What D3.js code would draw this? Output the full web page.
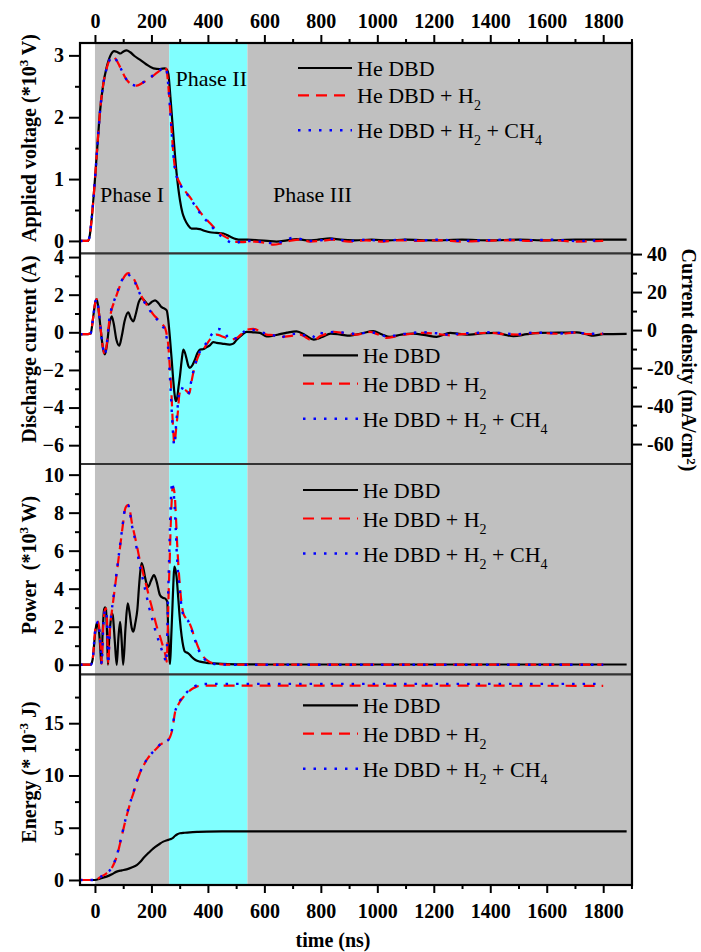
<!DOCTYPE html>
<html>
<head>
<meta charset="utf-8">
<script src="https://cdn.jsdelivr.net/npm/d3@7"></script>
<style>
body { margin: 0; background: #fff; }
svg text { font-family: "Liberation Serif", "Times New Roman", serif; fill: #000; }
.tick text { font-weight: bold; font-size: 20px; }
</style>
</head>
<body>
<svg id="chart" width="701" height="952"></svg>
<script>
// ---- data: [time (ns), value] ----
const timeTicks = [0, 200, 400, 600, 800, 1000, 1200, 1400, 1600, 1800];
const timeMinor = [100, 300, 500, 700, 900, 1100, 1300, 1500, 1700, 1900];
const phases = [
    { name: 'gray', from: 0, to: 263 },
    { name: 'cyan', from: 263, to: 540 },
    { name: 'gray', from: 540, to: 1902 }
];
const seriesNames = ['He DBD', 'He DBD + H2', 'He DBD + H2 + CH4'];

const voltageHe = [[-53,0],[-25,0],[-18,0.1],[-12,0.34],[-5,0.7],[0,1.0],[8,1.5],[18,2.1],[30,2.55],[41,2.8],[55,3.0],[68,3.07],[80,3.05],[90,3.03],[100,3.06],[112,3.08],[125,3.05],[140,2.99],[159,2.93],[180,2.86],[207,2.79],[230,2.78],[248,2.79],[255,2.77],[260,2.7],[268,2.28],[277,1.75],[289,1.1],[301,0.66],[310,0.45],[319,0.34],[330,0.25],[342,0.2],[360,0.2],[372,0.19],[390,0.16],[407,0.14],[431,0.13],[455,0.12],[478,0.07],[500,0.03],[514,0.02],[540,0.02],[580,0.01],[610,0],[643,-0.01],[680,0.01],[714,0.03],[750,0.01],[790,0.02],[832,0.04],[870,0.02],[920,0.01],[980,0.02],[1040,0.01],[1100,0.02],[1200,0.01],[1300,0.02],[1400,0.01],[1500,0.02],[1600,0.01],[1700,0.02],[1800,0.02],[1883,0.02]];
const voltageH2 = [[-53,0],[-25,0],[-18,0.1],[-12,0.34],[-5,0.7],[0,1.0],[8,1.5],[18,2.1],[30,2.55],[41,2.78],[55,2.95],[65,2.98],[75,2.93],[90,2.8],[110,2.62],[130,2.53],[148,2.51],[170,2.56],[195,2.63],[220,2.72],[242,2.79],[250,2.8],[255,2.72],[260,2.5],[268,2.01],[274,1.62],[280,1.3],[286,1.12],[292,1.02],[300,0.94],[310,0.86],[322,0.79],[336,0.71],[350,0.62],[372,0.47],[390,0.37],[407,0.29],[425,0.2],[443,0.12],[460,0.07],[478,0.03],[495,-0.01],[520,-0.02],[560,-0.01],[600,-0.03],[632,-0.06],[660,-0.04],[700,0.01],[730,0.02],[760,-0.01],[800,0],[840,0.02],[900,-0.01],[960,0.01],[1020,-0.01],[1080,0.01],[1150,0],[1220,0.01],[1300,-0.01],[1380,0],[1460,0.01],[1540,0],[1620,0.01],[1700,-0.01],[1800,0]];
const voltageCH4 = [[-53,0],[-25,0],[-18,0.1],[-12,0.34],[-5,0.7],[0,1.0],[8,1.5],[18,2.1],[30,2.55],[41,2.78],[55,2.95],[65,2.98],[75,2.93],[90,2.8],[110,2.62],[130,2.53],[148,2.51],[170,2.56],[195,2.64],[220,2.73],[242,2.79],[250,2.8],[255,2.72],[260,2.5],[268,2.01],[274,1.6],[280,1.28],[286,1.1],[292,1.0],[300,0.93],[310,0.85],[322,0.78],[336,0.7],[350,0.6],[372,0.45],[390,0.35],[407,0.27],[425,0.17],[443,0.09],[460,0.03],[478,-0.02],[490,-0.04],[520,-0.01],[560,0],[600,-0.02],[632,-0.04],[660,-0.02],[702,0.05],[730,0.03],[760,0],[800,0.01],[840,0.03],[900,0],[960,0.02],[1020,0],[1080,0.02],[1150,0.01],[1220,0.02],[1300,0],[1380,0.01],[1460,0.02],[1540,0.01],[1620,0.02],[1700,0],[1800,0.01]];

const currentHe = [[-53,-0.1],[-25,-0.1],[-15,-0.05],[-8,0.6],[0,1.5],[6,1.77],[12,1.3],[20,0.2],[28,-0.8],[35,-1.18],[42,-0.7],[50,0.3],[59,0.85],[66,0.5],[76,-0.4],[86,-0.71],[95,-0.2],[105,0.6],[118,1.06],[127,0.75],[136,0.58],[145,1.0],[155,1.6],[165,1.82],[177,1.65],[189,1.47],[200,1.6],[213,1.7],[225,1.55],[235,1.35],[242,1.29],[254,1.17],[260,0.6],[266,-0.39],[272,-1.5],[277,-2.5],[282,-3.3],[286,-3.66],[291,-3.5],[296,-2.9],[301,-2.33],[307,-1.5],[313,-0.92],[319,-1.1],[325,-1.45],[331,-1.8],[336,-1.89],[345,-1.75],[354,-1.45],[363,-1.1],[372,-0.92],[382,-0.9],[395,-0.8],[407,-0.7],[419,-0.52],[431,-0.56],[450,-0.6],[478,-0.65],[490,-0.6],[502,-0.39],[520,-0.15],[537,0.02],[560,0.0],[584,-0.03],[608,-0.22],[630,-0.18],[655,-0.1],[680,-0.02],[714,0.05],[745,-0.15],[775,-0.39],[805,-0.25],[835,-0.07],[870,-0.12],[903,-0.18],[945,-0.05],[986,0.06],[1015,-0.1],[1045,-0.24],[1085,-0.12],[1128,-0.07],[1170,-0.15],[1210,-0.24],[1258,-0.03],[1290,-0.08],[1328,-0.12],[1375,-0.05],[1423,-0.03],[1450,-0.12],[1482,-0.21],[1530,-0.1],[1576,-0.03],[1640,-0.02],[1706,0],[1740,-0.1],[1765,-0.18],[1800,-0.1],[1883,-0.08]];
const currentH2 = [[-53,-0.1],[-25,-0.1],[-15,-0.05],[-8,0.6],[0,1.5],[6,1.77],[12,1.3],[20,0.2],[28,-0.8],[35,-1.2],[42,-0.6],[50,0.5],[59,1.2],[71,1.73],[83,2.25],[95,2.7],[108,3.05],[118,3.15],[127,3.05],[136,2.88],[148,2.5],[159,2.09],[171,1.75],[183,1.47],[195,1.2],[207,0.94],[219,0.75],[230,0.58],[240,0.4],[248,0.23],[254,-0.1],[260,-0.74],[264,-1.6],[268,-2.51],[272,-3.6],[275,-4.63],[278,-5.4],[280,-5.87],[282,-5.95],[284,-5.69],[287,-5.2],[291,-4.63],[295,-4.0],[298,-3.4],[303,-3.1],[309,-3.04],[317,-3.05],[325,-3.13],[334,-3.25],[341,-2.7],[348,-2.16],[357,-1.65],[366,-1.27],[375,-1.05],[384,-0.92],[395,-0.65],[407,-0.39],[419,-0.2],[431,-0.12],[449,-0.21],[465,-0.3],[478,-0.39],[495,-0.35],[508,-0.24],[522,-0.05],[537,0.14],[561,0.18],[585,0.05],[608,-0.12],[632,-0.15],[655,-0.24],[690,-0.2],[726,-0.12],[745,-0.25],[762,-0.39],[780,-0.38],[797,-0.21],[820,-0.08],[844,0.03],[885,-0.05],[927,-0.12],[974,0.02],[1000,-0.1],[1033,-0.3],[1070,-0.2],[1110,-0.1],[1163,-0.03],[1210,-0.08],[1258,-0.16],[1300,-0.1],[1350,-0.06],[1400,-0.03],[1450,-0.1],[1500,-0.12],[1550,-0.05],[1600,-0.05],[1650,-0.08],[1700,-0.02],[1750,-0.1],[1800,-0.08]];
const currentCH4 = [[-53,-0.1],[-25,-0.1],[-15,-0.05],[-8,0.6],[0,1.5],[6,1.77],[12,1.3],[20,0.2],[28,-0.8],[35,-1.2],[42,-0.6],[50,0.6],[59,1.3],[71,1.8],[83,2.3],[95,2.75],[108,3.05],[115,3.1],[127,2.95],[136,2.8],[148,2.45],[159,2.05],[171,1.7],[183,1.42],[195,1.15],[207,0.9],[219,0.7],[230,0.52],[240,0.3],[248,0.1],[254,-0.3],[260,-1.0],[264,-2.0],[268,-3.0],[272,-4.2],[275,-5.0],[278,-5.7],[281,-6.0],[284,-5.6],[287,-5.0],[291,-4.3],[295,-3.6],[298,-3.1],[303,-2.95],[309,-2.98],[317,-3.05],[325,-3.15],[330,-3.3],[337,-2.9],[345,-2.3],[355,-1.7],[366,-1.2],[375,-0.95],[384,-0.8],[395,-0.55],[407,-0.25],[419,0.0],[437,0.18],[455,0.06],[470,-0.25],[485,-0.4],[500,-0.3],[515,-0.15],[530,0.05],[545,0.15],[565,0.12],[590,0.0],[615,-0.1],[640,-0.2],[655,-0.3],[680,-0.15],[720,-0.08],[750,-0.2],[770,-0.3],[785,0.0],[810,-0.05],[844,0.02],[885,-0.02],[927,-0.08],[974,0.0],[1000,-0.05],[1033,-0.22],[1070,-0.15],[1110,-0.05],[1163,0.0],[1210,-0.05],[1258,-0.12],[1300,-0.06],[1350,-0.03],[1400,0.0],[1450,-0.06],[1500,-0.1],[1550,-0.02],[1600,-0.03],[1650,-0.06],[1700,0.0],[1750,-0.08],[1800,-0.06]];

const powerHe = [[-53,0],[-15,0],[-8,0.3],[0,1.56],[5,2.1],[8,2.18],[12,1.95],[15,1.65],[19,0.8],[22,0.07],[27,1.6],[32,2.88],[36,3.02],[39,2.9],[43,1.5],[46,0],[51,1.5],[56,2.35],[60,2.7],[63,2.6],[70,1.3],[77,0],[83,1.4],[89,2.26],[94,1.4],[100,0],[108,1.9],[116,3.23],[122,2.8],[130,1.95],[136,1.74],[143,2.2],[150,2.88],[157,4.3],[165,5.34],[171,5.1],[177,4.63],[183,4.25],[189,4.1],[198,4.4],[209,4.72],[218,4.4],[230,3.67],[240,3.52],[248,3.49],[256,3.32],[260,1.47],[264,0.3],[266,0.04],[270,1.4],[274,2.88],[278,4.4],[281,5.16],[285,5.0],[289,4.63],[295,3.5],[301,2.35],[307,1.5],[313,0.95],[319,0.68],[327,0.63],[334,0.55],[342,0.42],[356,0.25],[372,0.16],[395,0.1],[419,0.07],[450,0.04],[500,0.02],[600,0.01],[1883,0.01]];
const powerH2 = [[-53,0],[-15,0],[-8,0.3],[0,1.7],[6,2.15],[12,2.26],[17,1.6],[21,0.7],[24,0.05],[29,1.9],[34,2.8],[39,2.97],[43,2.2],[47,0.05],[52,1.6],[59,2.7],[65,3.4],[71,4.1],[77,4.8],[83,5.51],[89,6.2],[95,6.92],[101,7.6],[106,8.14],[112,8.35],[118,8.41],[124,8.1],[130,7.53],[139,6.9],[148,6.3],[156,5.7],[165,5.16],[174,4.6],[183,4.1],[192,3.55],[201,3.05],[210,2.5],[219,2.0],[228,1.6],[236,1.21],[242,0.9],[248,0.6],[252,0.3],[254,0.16],[256,0.8],[261,3.76],[265,5.6],[268,7.26],[272,8.7],[275,9.35],[278,9.3],[283,8.84],[287,7.7],[291,6.39],[296,5.1],[301,4.1],[307,3.2],[313,2.7],[322,2.45],[330,2.35],[336,2.15],[342,1.92],[351,1.5],[360,1.13],[372,0.7],[384,0.42],[400,0.2],[419,0.07],[450,0.02],[500,0],[1800,0]];
const powerCH4 = [[-53,0],[-15,0],[-8,0.3],[0,1.7],[6,2.15],[12,2.26],[17,1.6],[21,0.7],[24,0.05],[29,1.9],[34,2.75],[39,2.9],[43,2.1],[47,0.05],[52,1.7],[59,2.8],[65,3.5],[71,4.2],[77,4.9],[83,5.6],[89,6.3],[95,7.0],[101,7.7],[106,8.2],[112,8.4],[118,8.38],[124,8.0],[130,7.4],[139,6.8],[148,6.1],[156,5.4],[165,4.8],[174,4.2],[183,3.6],[192,3.0],[201,2.5],[210,2.0],[219,1.55],[228,1.15],[236,0.8],[242,0.55],[248,0.3],[252,0.12],[254,0.5],[258,3.0],[262,5.2],[266,7.4],[270,9.0],[273,9.6],[277,9.3],[281,8.6],[286,7.2],[290,5.8],[296,4.6],[301,3.8],[307,3.0],[313,2.6],[322,2.4],[330,2.3],[336,2.1],[342,1.85],[351,1.45],[360,1.05],[372,0.62],[384,0.36],[400,0.16],[419,0.05],[450,0.01],[500,0],[1800,0]];

const energyHe = [[-53,0],[0,0],[20,0.15],[41,0.32],[60,0.55],[77,0.8],[95,0.92],[112,1.02],[130,1.2],[148,1.43],[160,1.72],[171,2.07],[190,2.6],[207,3.03],[225,3.38],[242,3.67],[255,3.8],[266,3.89],[275,4.0],[283,4.21],[292,4.38],[301,4.47],[318,4.52],[336,4.56],[365,4.6],[396,4.63],[450,4.65],[1883,4.65]];
const energyH2 = [[-53,0],[0,0],[20,0.3],[41,0.64],[59,1.12],[68,1.6],[77,2.23],[88,3.4],[100,4.78],[109,5.8],[118,6.7],[127,7.55],[136,8.29],[147,9.3],[159,10.21],[171,10.9],[183,11.48],[195,11.93],[207,12.28],[219,12.6],[230,12.92],[245,13.15],[260,13.4],[266,13.7],[272,14.19],[278,15.1],[283,15.95],[292,16.6],[301,17.06],[313,17.5],[325,17.87],[336,18.12],[348,18.34],[360,18.5],[372,18.58],[400,18.6],[1800,18.58]];
const energyCH4 = [[-53,0],[0,0],[20,0.3],[41,0.66],[59,1.15],[68,1.65],[77,2.3],[88,3.5],[100,4.85],[109,5.9],[118,6.8],[127,7.6],[136,8.35],[147,9.35],[159,10.25],[171,10.95],[183,11.5],[195,11.95],[207,12.3],[219,12.62],[230,12.95],[245,13.18],[260,13.42],[266,13.75],[272,14.3],[278,15.2],[283,16.0],[292,16.7],[301,17.15],[313,17.6],[325,17.95],[336,18.25],[348,18.45],[360,18.62],[372,18.72],[400,18.76],[1800,18.76]];

const voltageTicks = [0, 1, 2, 3], voltageMinor = [0.5, 1.5, 2.5];
const currentTicks = [-6, -4, -2, 0, 2, 4], currentMinor = [-5, -3, -1, 1, 3];
const densityTicks = [-60, -40, -20, 0, 20, 40], densityMinor = [-50, -30, -10, 10, 30];
const powerTicks = [0, 2, 4, 6, 8, 10], powerMinor = [1, 3, 5, 7, 9];
const energyTicks = [0, 5, 10, 15], energyMinor = [2.5, 7.5, 12.5, 17.5];

// ---- layout ----
const plotLeft = 80, plotRight = 632, plotTop = 43, plotBottom = 885;
const svg = d3.select('#chart');
const x = d3.scaleLinear().domain([-53, 1902]).range([plotLeft, plotRight]);

const styles = [
    { stroke: '#000', width: 2.2, dash: null },
    { stroke: '#ff0000', width: 2.2, dash: '11,7' },
    { stroke: '#0000ff', width: 2.4, dash: '2.5,8' }
];
const phaseFill = { gray: '#c0c0c0', cyan: '#80ffff' };

const panels = [
    { y0: 253.3, y1: plotTop, domain: [-0.2, 3.2], ticks: voltageTicks, minor: voltageMinor,
      series: [voltageHe, voltageH2, voltageCH4],
      label: [['Applied voltage (*10'], ['3', 'sup'], [' V)']], labelY: 138,
      legend: { x1: 298, x2: 352, tx: 357, rows: [76, 103.3, 138.3] } },
    { y0: 464, y1: 253.3, domain: [-7, 4.2], ticks: currentTicks, minor: currentMinor,
      series: [currentHe, currentH2, currentCH4],
      label: [['Discharge current (A)']], labelY: 349,
      legend: { x1: 303, x2: 358, tx: 362.7, rows: [363.3, 391.7, 426.7] } },
    { y0: 674.3, y1: 464, domain: [-0.505, 10.56], ticks: powerTicks, minor: powerMinor,
      series: [powerHe, powerH2, powerCH4],
      label: [['Power  (*10'], ['3', 'sup'], [' W)']], labelY: 565,
      legend: { x1: 303, x2: 358, tx: 362.7, rows: [498, 526.5, 561.5] } },
    { y0: plotBottom, y1: 674.3, domain: [-0.48, 19.68], ticks: energyTicks, minor: energyMinor,
      series: [energyHe, energyH2, energyCH4],
      label: [['Energy (* 10'], ['-3', 'sup'], [' J)']], labelY: 772,
      legend: { x1: 303, x2: 358, tx: 362.7, rows: [713.3, 741.7, 776.7] } }
];

// phase shading
svg.selectAll('rect.phase')
    .data(phases)
    .enter().append('rect')
    .attr('class', 'phase')
    .attr('x', d => x(d.from))
    .attr('y', plotTop)
    .attr('width', d => x(d.to) - x(d.from))
    .attr('height', plotBottom - plotTop)
    .attr('fill', d => phaseFill[d.name]);

function addText(g, parts, attrs, supShift = 8) {
    const t = g.append('text');
    Object.entries(attrs).forEach(([k, v]) => t.attr(k, v));
    let shift = 0;
    parts.forEach(([s, kind]) => {
        const span = t.append('tspan').text(s);
        let target = 0;
        if (kind === 'sup') { target = -supShift; span.style('font-size', '13px'); }
        if (kind === 'sub') { target = 7; span.style('font-size', '14px'); }
        if (target - shift !== 0) span.attr('dy', target - shift);
        shift = target;
    });
    return t;
}

const line = d3.line().x(d => x(d[0])).y(d => d[1]).curve(d3.curveMonotoneX);

panels.forEach(p => {
    const y = d3.scaleLinear().domain(p.domain).range([p.y0, p.y1]);

    p.series.forEach((s, i) => {
        svg.append('path')
            .datum(s.map(d => [d[0], y(d[1])]))
            .attr('fill', 'none')
            .attr('stroke', styles[i].stroke)
            .attr('stroke-width', styles[i].width)
            .attr('stroke-dasharray', styles[i].dash)
            .attr('d', line);
    });

    // left axis, major + minor
    const gMajor = svg.append('g')
        .attr('transform', `translate(${plotLeft},0)`)
        .call(d3.axisLeft(y).tickValues(p.ticks).tickSize(11).tickPadding(5).tickFormat(d3.format('d')));
    gMajor.select('.domain').remove();
    gMajor.selectAll('.tick line').attr('stroke-width', 2);
    gMajor.selectAll('.tick text').text(d => d < 0 ? '\u2212' + Math.abs(d) : d);
    const gMinor = svg.append('g')
        .attr('transform', `translate(${plotLeft},0)`)
        .call(d3.axisLeft(y).tickValues(p.minor).tickSize(5).tickFormat(''));
    gMinor.select('.domain').remove();
    gMinor.selectAll('.tick line').attr('stroke-width', 2);

    addText(svg, p.label, {
        transform: `translate(36,${p.labelY}) rotate(-90)`,
        'text-anchor': 'middle', 'font-weight': 'bold', 'font-size': 20
    }).style('white-space', 'pre');

    // legend
    const lg = p.legend;
    seriesNames.forEach((name, i) => {
        const yy = lg.rows[i] - 8;
        svg.append('line')
            .attr('x1', lg.x1).attr('x2', lg.x2)
            .attr('y1', yy).attr('y2', yy)
            .attr('stroke', styles[i].stroke)
            .attr('stroke-width', styles[i].width)
            .attr('stroke-dasharray', styles[i].dash);
        const parts = i === 0 ? [['He DBD']]
            : i === 1 ? [['He DBD + H'], ['2', 'sub']]
            : [['He DBD + H'], ['2', 'sub'], [' + CH'], ['4', 'sub']];
        addText(svg, parts, { x: lg.tx, y: lg.rows[i], 'font-size': 22 });
    });
});

// right axis of the current panel: current density
const yDensity = d3.scaleLinear().domain([-70.5, 40.4]).range([464, 253.3]);
const gR = svg.append('g')
    .attr('transform', `translate(${plotRight},0)`)
    .call(d3.axisRight(yDensity).tickValues(densityTicks).tickSize(10).tickPadding(5).tickFormat(d => d < 0 ? '-' + Math.abs(d) : d));
gR.select('.domain').remove();
gR.selectAll('.tick line').attr('stroke-width', 2);
const gR2 = svg.append('g')
    .attr('transform', `translate(${plotRight},0)`)
    .call(d3.axisRight(yDensity).tickValues(densityMinor).tickSize(5).tickFormat(''));
gR2.select('.domain').remove();
gR2.selectAll('.tick line').attr('stroke-width', 2);
addText(svg, [['Current density (mA/cm'], ['2', 'sup'], [')']], {
    transform: 'translate(682,360) rotate(90)',
    'text-anchor': 'middle', 'font-weight': 'bold', 'font-size': 20
}, 5);

// time axes, top and bottom
[['top', plotTop, d3.axisTop], ['bottom', plotBottom, d3.axisBottom]].forEach(([pos, yy, axisFn]) => {
    const g = svg.append('g')
        .attr('transform', `translate(0,${yy})`)
        .call(axisFn(x).tickValues(timeTicks).tickSize(8).tickPadding(pos === 'top' ? 7 : 11).tickFormat(d3.format('d')));
    g.select('.domain').remove();
    g.selectAll('.tick line').attr('stroke-width', 2);
    const gm = svg.append('g')
        .attr('transform', `translate(0,${yy})`)
        .call(axisFn(x).tickValues(timeMinor).tickSize(4).tickFormat(''));
    gm.select('.domain').remove();
    gm.selectAll('.tick line').attr('stroke-width', 2);
});

svg.append('text')
    .attr('x', 333).attr('y', 947)
    .attr('text-anchor', 'middle')
    .attr('font-weight', 'bold').attr('font-size', 20)
    .text('time (ns)');

// frame and panel separators
[253.3, 464, 674.3].forEach(yy => {
    svg.append('line')
        .attr('x1', plotLeft).attr('x2', plotRight)
        .attr('y1', yy).attr('y2', yy)
        .attr('stroke', '#333').attr('stroke-width', 2.2);
});
svg.append('rect')
    .attr('x', plotLeft).attr('y', plotTop)
    .attr('width', plotRight - plotLeft).attr('height', plotBottom - plotTop)
    .attr('fill', 'none').attr('stroke', '#000').attr('stroke-width', 2.2);

// phase labels
[['Phase I', 100, 201.5], ['Phase II', 175.5, 86], ['Phase III', 273, 201.5]].forEach(([t, px, py]) => {
    svg.append('text').attr('x', px).attr('y', py).attr('font-size', 22).text(t);
});
</script>
</body>
</html>
